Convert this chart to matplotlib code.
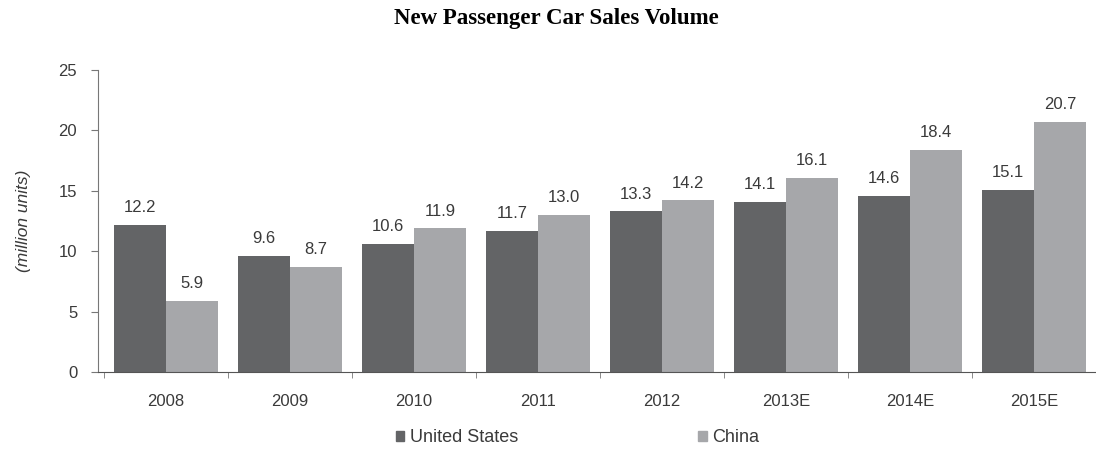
import matplotlib
matplotlib.use("Agg")
import matplotlib.pyplot as plt
import numpy as np
from matplotlib.patches import Patch

matplotlib.rcParams["font.family"] = ["Liberation Sans", "DejaVu Sans"]

years = ["2008", "2009", "2010", "2011", "2012", "2013E", "2014E", "2015E"]
us_sales = [12.2, 9.6, 10.6, 11.7, 13.3, 14.1, 14.6, 15.1]
china_sales = [5.9, 8.7, 11.9, 13.0, 14.2, 16.1, 18.4, 20.7]

US_COLOR = "#636466"
CN_COLOR = "#a6a7aa"
TEXT = "#3a3a3a"

fig = plt.figure(figsize=(10.96, 4.5), dpi=100)
ax = fig.add_axes([0.0894, 0.1733, 0.9106, 0.6711])

x = np.arange(len(years))
w = 0.42
ax.bar(x - w / 2, us_sales, w, color=US_COLOR, label="United States")
ax.bar(x + w / 2, china_sales, w, color=CN_COLOR, label="China")

for i in range(len(years)):
    ax.text(x[i] - w / 2, us_sales[i] + 0.8, f"{us_sales[i]:.1f}", ha="center",
            va="bottom", fontsize=12, color=TEXT)
    ax.text(x[i] + w / 2, china_sales[i] + 0.8, f"{china_sales[i]:.1f}", ha="center",
            va="bottom", fontsize=12, color=TEXT)

ax.set_xlim(-0.55, 7.5)
ax.set_ylim(0, 25)
ax.set_yticks([0, 5, 10, 15, 20, 25])
ax.set_xticks(x)
ax.set_xticklabels(years)
ax.set_xticks(np.arange(-0.5, len(years), 1.0), minor=True)
ax.tick_params(axis="y", direction="out", length=5, color="#777777", labelsize=12,
               labelcolor=TEXT, pad=10)
ax.tick_params(axis="x", which="major", length=0, labelsize=12, labelcolor=TEXT, pad=16)
ax.tick_params(axis="x", which="minor", direction="out", length=4, color="#777777")
for s in ["top", "right"]:
    ax.spines[s].set_visible(False)
ax.spines["left"].set_color("#777777")
ax.spines["bottom"].set_color("#555555")
ax.set_ylabel("(million units)", fontstyle="italic", fontsize=12.5, color=TEXT, labelpad=20)

fig.suptitle("New Passenger Car Sales Volume", family="Liberation Serif",
             fontweight="bold", fontsize=16.5, x=0.508, y=0.982)

handles = [Patch(color=US_COLOR, label="United States"), Patch(color=CN_COLOR, label="China")]
fig.legend(handles=handles, loc="center", bbox_to_anchor=(0.527, 0.027), ncol=2,
           frameon=False, fontsize=13, handlelength=0.45, handleheight=0.45,
           handletextpad=0.3, columnspacing=10, labelcolor=TEXT)

fig.savefig("out.png", dpi=100)
